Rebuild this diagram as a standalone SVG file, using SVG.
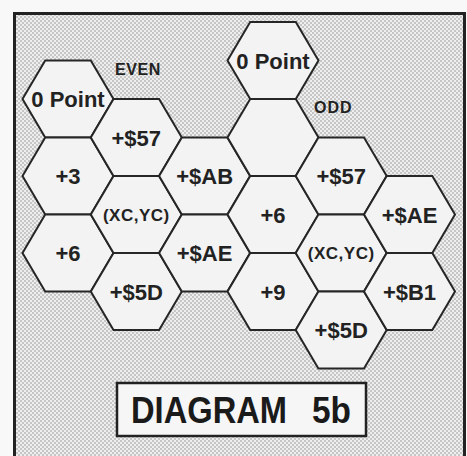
<svg xmlns="http://www.w3.org/2000/svg" width="467" height="456" viewBox="0 0 467 456">
<style>
.hex{fill:#f3f3f3;stroke:#262626;stroke-width:2;stroke-linejoin:miter}
.lb{font-family:"Liberation Sans",Arial,sans-serif;font-weight:bold;font-size:22px;fill:#222;text-anchor:middle}
.sm{font-family:"Liberation Sans",Arial,sans-serif;font-weight:bold;font-size:17px;fill:#222;text-anchor:middle;letter-spacing:0.5px}
.tag{font-family:"Liberation Sans",Arial,sans-serif;font-weight:bold;font-size:16px;fill:#222}
</style>
<defs>
<pattern id="dith" width="4" height="4" patternUnits="userSpaceOnUse">
<rect width="4" height="4" fill="#eeeeee"/>
<rect x="0" y="0" width="2" height="2" fill="#c6c6c6"/>
<rect x="2" y="2" width="2" height="2" fill="#c6c6c6"/>
</pattern>
<polygon id="hx" points="-45.5,0 -22.8,-38.5 22.8,-38.5 45.5,0 22.8,38.5 -22.8,38.5"/>
</defs>
<rect width="467" height="456" fill="#f8f8f8"/>
<rect id="frame" x="14.5" y="13.5" width="450" height="450" fill="url(#dith)" stroke="#222" stroke-width="3"/>
<g id="connectors"></g>
<g id="even-label"><text class="tag" x="115" y="75" letter-spacing="0.6">EVEN</text></g>
<g id="odd-label"><text class="tag" x="314" y="113" letter-spacing="1">ODD</text></g>

<g id="e-zero"><use href="#hx" class="hex" x="68" y="99"/><text class="lb" x="68" y="107">0 Point</text></g>
<g id="e-p3"><use href="#hx" class="hex" x="68" y="176"/><text class="lb" x="68" y="184">+3</text></g>
<g id="e-p6"><use href="#hx" class="hex" x="68" y="253"/><text class="lb" x="68" y="261">+6</text></g>
<g id="e-57"><use href="#hx" class="hex" x="136.3" y="137.5"/><text class="lb" x="136.3" y="145.5">+$57</text></g>
<g id="e-xc"><use href="#hx" class="hex" x="136.3" y="214.5"/><text class="sm" x="136.3" y="220.5">(XC,YC)</text></g>
<g id="e-5d"><use href="#hx" class="hex" x="136.3" y="291.5"/><text class="lb" x="136.3" y="299.5">+$5D</text></g>
<g id="e-ab"><use href="#hx" class="hex" x="204.6" y="176"/><text class="lb" x="204.6" y="184">+$AB</text></g>
<g id="e-ae"><use href="#hx" class="hex" x="204.6" y="253"/><text class="lb" x="204.6" y="261">+$AE</text></g>

<g id="o-zero"><use href="#hx" class="hex" x="273" y="60.5"/><text class="lb" x="273" y="68.5">0 Point</text></g>
<g id="o-empty"><use href="#hx" class="hex" x="273" y="137.5"/></g>
<g id="o-p6"><use href="#hx" class="hex" x="273" y="214.5"/><text class="lb" x="273" y="222.5">+6</text></g>
<g id="o-p9"><use href="#hx" class="hex" x="273" y="291.5"/><text class="lb" x="273" y="299.5">+9</text></g>
<g id="o-57"><use href="#hx" class="hex" x="341.2" y="176"/><text class="lb" x="341.2" y="184">+$57</text></g>
<g id="o-xc"><use href="#hx" class="hex" x="341.2" y="253"/><text class="sm" x="341.2" y="259">(XC,YC)</text></g>
<g id="o-5d"><use href="#hx" class="hex" x="341.2" y="330"/><text class="lb" x="341.2" y="338">+$5D</text></g>
<g id="o-ae"><use href="#hx" class="hex" x="409.5" y="214.5"/><text class="lb" x="409.5" y="222.5">+$AE</text></g>
<g id="o-b1"><use href="#hx" class="hex" x="409.5" y="291.5"/><text class="lb" x="409.5" y="299.5">+$B1</text></g>

<g id="title">
<rect x="117" y="383" width="249" height="53" fill="#f6f6f6" stroke="#222" stroke-width="2.5"/>
<text font-family="'Liberation Sans',Arial,sans-serif" font-weight="bold" font-size="36" fill="#1a1a1a" y="423"><tspan x="131" textLength="156" lengthAdjust="spacingAndGlyphs">DIAGRAM</tspan> <tspan x="312" textLength="39" lengthAdjust="spacingAndGlyphs">5b</tspan></text>
</g>
</svg>
